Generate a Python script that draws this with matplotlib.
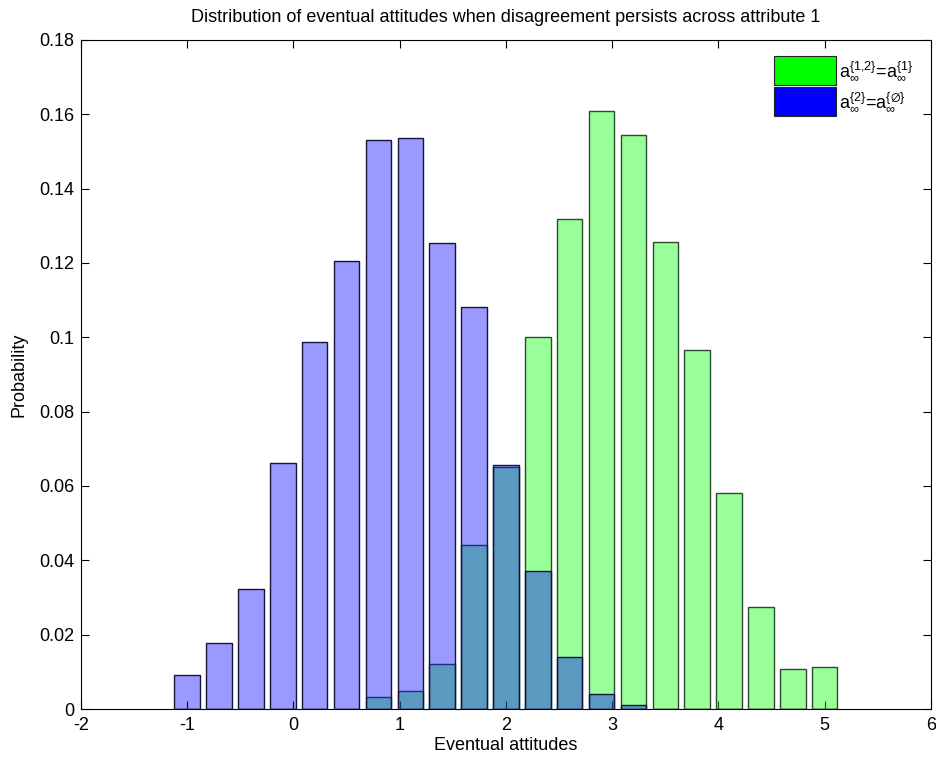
import numpy as np
import matplotlib
matplotlib.use("Agg")
import matplotlib.pyplot as plt
from matplotlib.patches import Patch
from matplotlib.ticker import FuncFormatter

plt.rcParams["font.family"] = ["Liberation Sans", "DejaVu Sans"]
plt.rcParams["mathtext.fontset"] = "custom"
plt.rcParams["mathtext.rm"] = "Liberation Sans"
plt.rcParams["mathtext.it"] = "Liberation Sans"
plt.rcParams["axes.unicode_minus"] = False

# bin centres of the histogram
bin_centres = [-1.0, -0.7, -0.4, -0.1, 0.2, 0.5, 0.8, 1.1, 1.4, 1.7, 2.0,
               2.3, 2.6, 2.9, 3.2, 3.5, 3.8, 4.1, 4.4, 4.7, 5.0]

# attitude a{1,2} = a{1}  (green)
prob_green = [0, 0, 0, 0, 0, 0, 0.0033, 0.0048, 0.0121, 0.0441, 0.0651,
              0.1000, 0.1318, 0.1610, 0.1543, 0.1256, 0.0965, 0.0582,
              0.0274, 0.0107, 0.0114]

# attitude a{2} = a{empty}  (blue)
prob_blue = [0.0091, 0.0178, 0.0322, 0.0662, 0.0987, 0.1205, 0.1530, 0.1537,
             0.1255, 0.1082, 0.0656, 0.0372, 0.0141, 0.0040, 0.0010, 0, 0, 0,
             0, 0, 0]

legend_labels = [r"$\mathregular{a_{\infty}^{\{1{,}2\}}}$=$\mathregular{a_{\infty}^{\{1\}}}$",
                 r"$\mathregular{a_{\infty}^{\{2\}}}$=$\mathregular{a_{\infty}^{\{\emptyset\}}}$"]

fig = plt.figure(figsize=(9.36, 7.6), dpi=100)
ax = fig.add_axes([0.0865, 0.0671, 0.9081, 0.8803])

width = 0.24
x = np.array(bin_centres)
ax.bar(x, prob_green, width=width, color=(0, 1, 0, 0.4),
       edgecolor="#2e4a2e", linewidth=1.0, zorder=1)
ax.bar(x, prob_blue, width=width, color=(0, 0, 1, 0.4),
       edgecolor="#14143c", linewidth=1.0, zorder=2)

ax.set_xlim(-2, 6)
ax.set_ylim(0, 0.18)
ax.set_xticks(np.arange(-2, 7, 1))
ax.set_yticks(np.arange(0, 0.181, 0.02))
ax.yaxis.set_major_formatter(FuncFormatter(lambda v, p: "%g" % round(v, 2)))
ax.set_axisbelow(True)
ax.tick_params(direction="in", length=6, top=True, right=True,
               labelsize=13, width=0.8)
ax.tick_params(axis="x", pad=6)
ax.tick_params(axis="y", pad=5)

ax.set_title("Distribution of eventual attitudes when disagreement persists across attribute 1",
             fontsize=13, pad=13)
ax.set_xlabel("Eventual attitudes", fontsize=13, labelpad=2)
ax.set_ylabel("Probability", fontsize=13, labelpad=8)

handles = [Patch(facecolor="#00ff00", edgecolor="#222222", linewidth=0.8),
           Patch(facecolor="#0000ff", edgecolor="#222222", linewidth=0.8)]
ax.legend(handles, legend_labels, loc="upper left",
          bbox_to_anchor=(0.805, 0.99), frameon=False, borderpad=0,
          fontsize=13, handlelength=3.4, handleheight=2.1,
          handletextpad=0.2, labelspacing=0.1)

fig.savefig("out.png", dpi=100)
